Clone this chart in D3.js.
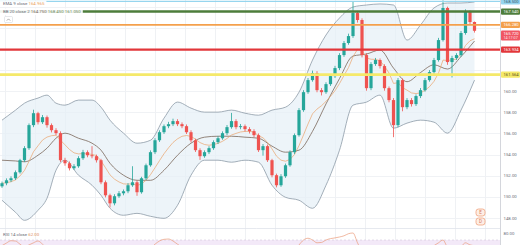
<!DOCTYPE html>
<html>
<head>
<meta charset="utf-8">
<script src="https://cdn.jsdelivr.net/npm/d3@7"></script>
<style>
html, body { margin: 0; padding: 0; background: #fff; }
svg { display: block; font-family: Roboto, "Noto Sans", sans-serif; }
</style>
</head>
<body>
<svg id="chart" width="520" height="245"></svg>
<script>
// candles
var opens = [151.00,151.29,151.57,151.76,152.33,153.47,154.61,156.79,157.92,157.07,
  157.54,156.79,156.31,156.03,153.47,153.18,152.71,152.90,153.66,154.23,
  153.94,153.85,153.47,151.38,150.15,149.39,150.06,150.34,150.53,151.10,
  151.38,150.44,151.76,152.99,154.23,155.36,156.12,156.69,156.88,157.17,
  156.88,156.69,156.12,155.36,154.42,153.85,154.23,154.61,155.18,155.55,
  156.03,156.60,157.17,156.60,156.69,156.41,156.22,155.84,154.42,154.80,
  153.47,152.05,151.10,151.95,152.99,154.23,155.84,158.21,159.91,161.05,
  161.72,160.10,159.91,160.67,161.43,162.19,163.42,164.56,165.22,167.40,
  166.74,163.42,160.29,162.57,162.95,162.38,160.29,159.16,156.79,161.05,
  158.49,159.16,158.78,159.54,160.10,161.05,161.81,162.95,164.84,167.88,
  162.76,163.14,163.42,165.51,167.50,166.55];
var highs = [151.45,151.75,151.95,152.50,153.60,154.80,156.95,158.25,158.05,157.75,
  157.70,156.95,156.50,156.20,153.70,153.35,153.10,153.85,154.45,154.40,
  154.80,154.00,153.60,151.55,150.30,150.25,150.55,150.70,151.30,152.90,
  151.55,151.90,153.15,154.40,155.55,156.30,156.85,157.10,157.40,157.35,
  157.05,156.85,156.30,155.50,154.60,154.40,154.80,155.35,155.75,156.20,
  156.80,157.95,157.35,156.90,156.85,156.60,156.40,156.00,155.00,154.95,
  153.60,152.20,152.15,153.15,154.40,156.00,158.40,160.10,161.25,161.95,
  161.90,160.30,160.85,161.60,162.40,163.60,164.75,165.45,168.45,167.60,
  166.90,163.60,162.75,163.15,163.10,162.55,160.45,159.35,161.25,161.20,
  159.35,159.35,159.70,160.30,161.25,162.00,163.15,165.05,168.60,168.00,
  163.35,163.60,165.70,167.75,167.65,166.60];
var lows = [150.85,151.10,151.40,151.60,152.20,153.30,154.45,156.60,156.85,156.90,
  156.55,156.10,155.85,153.30,152.95,152.50,152.55,152.75,153.50,153.75,
  153.65,153.25,151.20,149.95,149.00,149.20,149.90,150.15,150.35,150.95,
  150.10,150.30,151.60,152.85,154.05,155.20,155.95,156.50,156.70,156.70,
  156.50,155.95,155.15,154.25,153.50,153.70,154.05,154.45,155.00,155.40,
  155.85,156.45,156.40,156.40,156.20,156.00,155.65,154.25,153.90,153.30,
  151.85,150.90,150.95,151.80,152.85,154.05,155.70,158.05,159.75,160.90,
  159.90,159.60,159.75,160.50,161.25,162.00,163.25,164.40,165.05,166.50,
  163.20,160.05,160.10,162.40,162.15,160.05,158.95,155.65,156.60,158.10,
  158.30,158.55,158.60,159.35,159.95,160.90,161.65,162.80,164.70,162.50,
  161.30,162.95,163.25,165.35,166.35,165.55];
var closes = [151.29,151.57,151.76,152.33,153.47,154.61,156.79,157.92,157.07,157.54,
  156.79,156.31,156.03,153.47,153.18,152.71,152.90,153.66,154.23,153.94,
  153.85,153.47,151.38,150.15,149.39,150.06,150.34,150.53,151.10,151.38,
  150.44,151.76,152.99,154.23,155.36,156.12,156.69,156.88,157.17,156.88,
  156.69,156.12,155.36,154.42,153.85,154.23,154.61,155.18,155.55,156.03,
  156.60,157.17,156.60,156.69,156.41,156.22,155.84,154.42,154.80,153.47,
  152.05,151.10,151.95,152.99,154.23,155.84,158.21,159.91,161.05,161.72,
  160.10,159.91,160.67,161.43,162.19,163.42,164.56,165.22,167.40,166.74,
  163.42,160.29,162.57,162.95,162.38,160.29,159.16,156.79,161.05,158.49,
  159.16,158.78,159.54,160.10,161.05,161.81,162.95,164.84,167.88,162.76,
  163.14,163.42,165.51,167.50,166.55,165.72];

// bollinger band, sampled at these candles
var bandIdx = [0,3,5,8,10,12,14,17,20,22,24,27,30,33,36,39,42,45,48,51,54,57,60,63,66,69,72,75,78,81,84,87,90,93,96,99,102,105];
var bbUpper = [157.26,158.21,158.87,159.35,159.63,158.87,158.68,159.16,159.16,158.49,157.26,156.03,155.08,155.36,157.45,158.97,158.40,158.02,158.02,158.21,157.92,157.73,158.21,158.49,159.91,162.95,165.32,166.93,167.97,168.16,168.26,168.16,164.84,166.27,167.88,168.35,168.35,168.45];
var bbMid = [153.47,153.40,153.32,153.94,154.61,155.55,156.03,155.55,155.08,154.42,153.18,152.05,151.57,151.57,152.52,153.94,155.08,155.65,155.74,155.74,155.65,155.55,154.80,154.23,154.42,156.20,158.80,161.20,163.33,163.52,163.90,162.19,160.90,161.77,162.50,162.10,163.28,164.75];
var bbLower = [149.68,148.54,147.78,148.73,149.87,152.52,153.47,152.05,151.10,150.15,148.92,148.26,148.44,148.16,147.97,149.20,152.05,153.47,153.47,153.28,153.47,153.28,151.10,149.96,149.68,148.92,151.10,154.42,158.68,158.97,159.63,156.50,156.98,157.26,157.07,156.03,158.21,161.05];

// rsi, only the top of it is in view
var rsiIdx = [0,1,2,3,4,5,6,7,8,9,10,14,20,26,30,33,34,35,36,37,38,39,40,46,52,60,64,65,66,67,68,69,70,71,72,73,74,75,76,77,78,79,80,82,87,92,95,96,97,98,99,100,102,103,104,105];
var rsiVals = [62,65.7,69,68.5,64,60,63,66,68.6,64,58,50,45,38,35,58,64,68.6,71,71.4,68.6,64,60,52,55,40,50,55,62.9,70,72.5,70,66,66.5,70,72,73,74.3,76,79,80,66,55,55,40,52,58,62,66,70,60,58,61,66,63,62];

var priceTicks = [148,150,152,154,156,158,160,162,164,166,168];
var levelValues = [168.50, 167.54, 166.28, 163.934, 161.564];

// styling for the drawn levels
var levelColors = ["#96d5ee", "#4d7d3b", "#f4a04c", "#e2363a", "#f5e96a"];
var levelWidths = [1.3, 2.4, 1.6, 2.4, 2.8];
var levelTextColors = ["#35576a", "#fff", "#fff", "#fff", "#5a5420"];

var svg = d3.select("#chart");
var plotR = 500, paneB = 228.5;

var x = d3.scaleLinear().domain([0, closes.length - 1]).range([2, 474.5]);
var y = d3.scaleLinear().domain([148, 168]).range([218, 6.7]);
var ry = d3.scaleLinear().domain([70, 80]).range([240, 233]);

var lastClose = closes[closes.length - 1];

var defs = svg.append("defs");
defs.append("clipPath").attr("id", "mainClip").append("rect")
    .attr("x", 0).attr("y", 0).attr("width", plotR).attr("height", paneB);
defs.append("clipPath").attr("id", "rsiClip").append("rect")
    .attr("x", 0).attr("y", paneB).attr("width", plotR).attr("height", 245 - paneB);

// grid
var grid = svg.append("g");
grid.selectAll("line.h").data(priceTicks).enter().append("line")
    .attr("x1", 0).attr("x2", plotR)
    .attr("y1", function(d) { return Math.round(y(d)) + 0.5; })
    .attr("y2", function(d) { return Math.round(y(d)) + 0.5; })
    .attr("stroke", "#f0f2f5");
grid.selectAll("line.v").data(d3.range(0.7, closes.length + 3, 6.67)).enter().append("line")
    .attr("x1", function(d) { return Math.round(x(d)) + 0.5; })
    .attr("x2", function(d) { return Math.round(x(d)) + 0.5; })
    .attr("y1", 0).attr("y2", 245)
    .attr("stroke", "#eff1f4");

var main = svg.append("g").attr("clip-path", "url(#mainClip)");

// band
var band = bandIdx.map(function(d, i) {
    return {i: d, up: bbUpper[i], mid: bbMid[i], lo: bbLower[i]};
});
main.append("path").datum(band)
    .attr("d", d3.area().curve(d3.curveMonotoneX)
        .x(function(d) { return x(d.i); })
        .y0(function(d) { return y(d.lo); })
        .y1(function(d) { return y(d.up); }))
    .attr("fill", "#e6eff7").attr("opacity", 0.7);

["up", "lo"].forEach(function(k) {
    main.append("path").datum(band)
        .attr("d", d3.line().curve(d3.curveMonotoneX)
            .x(function(d) { return x(d.i); })
            .y(function(d) { return y(d[k]); }))
        .attr("fill", "none").attr("stroke", "#8d9ba7").attr("stroke-width", 0.8);
});
main.append("path").datum(band)
    .attr("d", d3.line().curve(d3.curveMonotoneX)
        .x(function(d) { return x(d.i); })
        .y(function(d) { return y(d.mid); }))
    .attr("fill", "none").attr("stroke", "#7a675a").attr("stroke-width", 0.8);

// ema 9
var k = 2 / (9 + 1);
var ema = [];
closes.forEach(function(c, i) {
    ema.push(i ? c * k + ema[i - 1] * (1 - k) : c);
});
main.append("path").datum(ema)
    .attr("d", d3.line().x(function(d, i) { return x(i); }).y(function(d) { return y(d); }))
    .attr("fill", "none").attr("stroke", "#eaa46c").attr("stroke-width", 0.7);

// candles
var up = "#26a69a", down = "#ef5350";
var cg = main.selectAll("g.candle").data(closes).enter().append("g");
cg.append("line")
    .attr("x1", function(d, i) { return x(i); })
    .attr("x2", function(d, i) { return x(i); })
    .attr("y1", function(d, i) { return y(highs[i]); })
    .attr("y2", function(d, i) { return y(lows[i]); })
    .attr("stroke", function(d, i) { return d >= opens[i] ? up : down; })
    .attr("stroke-width", 0.8);
cg.append("rect")
    .attr("x", function(d, i) { return x(i) - 1.6; })
    .attr("width", 3.2)
    .attr("y", function(d, i) { return y(Math.max(d, opens[i])); })
    .attr("height", function(d, i) { return Math.max(0.8, Math.abs(y(d) - y(opens[i]))); })
    .attr("fill", function(d, i) { return d >= opens[i] ? up : down; });

// horizontal levels
main.selectAll("line.level").data(levelValues).enter().append("line")
    .attr("x1", 0).attr("x2", plotR)
    .attr("y1", function(d) { return y(d); })
    .attr("y2", function(d) { return y(d); })
    .attr("stroke", function(d, i) { return levelColors[i]; })
    .attr("stroke-width", function(d, i) { return levelWidths[i]; });

// legend
function legendRow(yy, parts) {
    var g = svg.append("g");
    var bg = g.append("rect").attr("x", 0).attr("y", yy - 4.5).attr("height", 6.5).attr("fill", "#fff").attr("opacity", 0.92);
    var t = g.append("text").attr("x", 3).attr("y", yy).attr("font-size", 4.4);
    parts.forEach(function(p) {
        t.append("tspan").attr("fill", p[1]).text(p[0] + " ");
    });
    bg.attr("width", t.node().getComputedTextLength() + 5);
}
var last = bandIdx.length - 1;
legendRow(5, [["EMA 9 close", "#6a6d78"], [ema[ema.length - 1].toFixed(3), "#e9a060"]]);
legendRow(13, [["BB 20 close 2", "#6a6d78"], [bbMid[last].toFixed(3), "#7a675a"],
    [bbUpper[last].toFixed(3), "#6f8a5c"], [bbLower[last].toFixed(3), "#6f8a5c"]]);
svg.append("rect").attr("x", 4.5).attr("y", 16.5).attr("width", 8).attr("height", 6).attr("rx", 1)
    .attr("fill", "#fff").attr("stroke", "#d5d8de").attr("stroke-width", 0.6);
svg.append("path").attr("d", "M6.8,20.6 L8.5,18.9 L10.2,20.6")
    .attr("fill", "none").attr("stroke", "#777").attr("stroke-width", 0.6);

// event badges
[209, 218].forEach(function(by, i) {
    svg.append("rect").attr("x", 476).attr("y", by).attr("width", 9).attr("height", 7).attr("rx", 2.5)
        .attr("fill", "#fdeee6").attr("stroke", "#f0a27c").attr("stroke-width", 0.8);
    svg.append("text").attr("x", 480.5).attr("y", by + 5.2).attr("text-anchor", "middle")
        .attr("font-size", 4.5).attr("fill", "#d9795a").text(i ? "D" : "E");
});

// rsi pane
svg.append("line").attr("x1", 0).attr("x2", 520).attr("y1", paneB).attr("y2", paneB)
    .attr("stroke", "#e0e3eb").attr("stroke-width", 0.8);
var rsiG = svg.append("g").attr("clip-path", "url(#rsiClip)");
rsiG.append("rect").attr("x", 0).attr("width", plotR)
    .attr("y", ry(70)).attr("height", ry(30) - ry(70)).attr("fill", "#f3e9f8");
rsiG.append("line").attr("x1", 0).attr("x2", plotR).attr("y1", ry(70)).attr("y2", ry(70))
    .attr("stroke", "#c8bcd6").attr("stroke-width", 0.5).attr("stroke-dasharray", "2,2");
rsiG.append("path").datum(rsiIdx)
    .attr("d", d3.line().curve(d3.curveMonotoneX)
        .x(function(d) { return x(d); })
        .y(function(d, i) { return ry(rsiVals[i]); }))
    .attr("fill", "none").attr("stroke", "#eb9b7a").attr("stroke-width", 0.7);
svg.append("text").attr("x", 3).attr("y", 236).attr("font-size", 4.4)
    .call(function(t) {
        t.append("tspan").attr("fill", "#6a6d78").text("RSI 14 close ");
        t.append("tspan").attr("fill", "#e09060").text(rsiVals[rsiVals.length - 1].toFixed(2));
    });

// price axis
var axisG = svg.append("g");
axisG.append("rect").attr("x", plotR).attr("y", 0).attr("width", 20).attr("height", 245).attr("fill", "#fff");
axisG.append("line").attr("x1", plotR + 0.5).attr("x2", plotR + 0.5).attr("y1", 0).attr("y2", 245)
    .attr("stroke", "#c9ccd3").attr("stroke-width", 0.8);

// tick labels hidden where a coloured tag sits on top of them
var tagYs = levelValues.map(function(v) { return y(v); }).concat([y(lastClose) + 2.5]);
var shownTicks = priceTicks.filter(function(t) {
    return tagYs.every(function(ty) { return Math.abs(ty - y(t)) > 5; });
});
axisG.selectAll("text.tick").data(shownTicks).enter().append("text")
    .attr("x", 503.5).attr("y", function(d) { return y(d) + 1.6; })
    .attr("font-size", 4.3).attr("fill", "#6a6d78")
    .text(function(d) { return d.toFixed(2); });
axisG.append("text").attr("x", 503.5).attr("y", ry(80) + 1.6)
    .attr("font-size", 4.3).attr("fill", "#6a6d78").text("80.00");

var tags = axisG.selectAll("g.tag").data(levelValues).enter().append("g");
tags.append("rect").attr("x", 501).attr("width", 19)
    .attr("y", function(d) { return y(d) - 3.1; }).attr("height", 6.2).attr("rx", 1)
    .attr("fill", function(d, i) { return levelColors[i]; });
tags.append("text").attr("x", 503.5).attr("y", function(d) { return y(d) + 1.5; })
    .attr("font-size", 4.2).attr("fill", function(d, i) { return levelTextColors[i]; })
    .text(function(d) { return d.toFixed(3); });

// last price tag with countdown, sits just under the orange tag
var ly = y(lastClose);
axisG.append("rect").attr("x", 501).attr("width", 19)
    .attr("y", ly - 0.4).attr("height", 10).attr("rx", 1).attr("fill", "#f05663");
axisG.append("text").attr("x", 503.5).attr("y", ly + 4.1)
    .attr("font-size", 4.2).attr("fill", "#fff").text(lastClose.toFixed(3));
axisG.append("text").attr("x", 503.5).attr("y", ly + 8.3)
    .attr("font-size", 3.7).attr("fill", "#fde3e5").text("14:17:07");
</script>
</body>
</html>
